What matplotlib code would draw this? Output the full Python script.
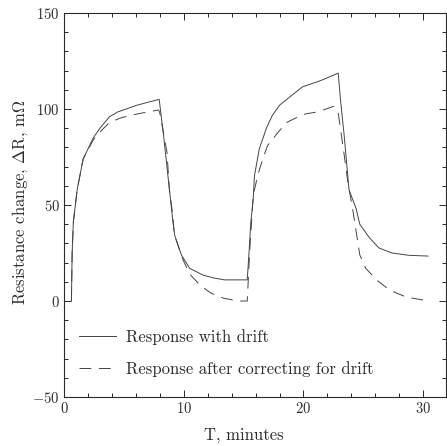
import matplotlib
matplotlib.use("Agg")
import matplotlib.pyplot as plt
from matplotlib.ticker import MultipleLocator

# ---- data ----
t_drift = [0.62, 0.68, 0.78, 1.1, 1.6, 2.45, 3.0, 3.8, 4.5, 5.2, 6.0, 7.0, 7.95,
           8.3, 8.7, 9.1, 9.25, 9.8, 10.5, 11.6, 12.5, 13.4, 14.5, 15.3,
           15.45, 15.6, 15.8, 15.9, 16.3, 16.9, 17.4, 18.0, 18.8, 19.9, 21.3, 21.9, 22.9,
           23.1, 23.4, 23.8, 24.4, 24.7, 25.5, 26.3, 27.4, 28.8, 30.4]
r_drift = [0, 25, 41, 58, 74, 85, 90, 96, 98.5, 100, 101.8, 103.5, 105,
           87, 64, 41, 34, 24, 17, 13.5, 12, 11, 11, 11,
           25, 41, 53, 65, 79, 90, 96.7, 102, 106, 111.5, 114.5, 116, 118.7,
           104, 86, 58, 48, 40, 33, 27.6, 25, 23.8, 23.4]

t_corr = [0.62, 0.68, 0.78, 1.1, 1.6, 2.45, 3.0, 3.8, 4.8, 5.8, 7.0, 7.9,
          8.0, 8.6, 8.8, 9.1, 9.2, 9.9, 10.5, 11.4, 12.3, 13.3, 14.5, 15.3,
          15.5, 15.8, 16.2, 16.6, 17.0, 17.4, 17.7, 18.3, 18.6, 19.25, 20.2, 21.1, 21.9, 22.5,
          22.9, 23.4, 23.7, 24.1, 24.7, 25.2, 26.1, 27.2, 28.6, 30.5]
r_corr = [0, 25, 41, 58, 74, 84, 88, 93, 95.5, 97, 98.5, 99.5,
          98, 77.5, 58, 44, 35, 22, 14, 8, 4, 1.5, 0, 0,
          25, 55, 66, 74, 81, 84, 86.5, 91, 93, 95, 97.5, 98.4, 100, 101.4,
          98, 76, 62, 48, 24, 17, 11, 5.6, 2, 0]

labels = ["Response with drift", "Response after correcting for drift"]
xlabel = "T, minutes"
ylabel = r"Resistance change, $\Delta$R, m$\Omega$"

# ---- style ----
plt.rcParams["font.family"] = ["cmr10", "DejaVu Serif"]
plt.rcParams["mathtext.fontset"] = "cm"
plt.rcParams["axes.unicode_minus"] = False
plt.rcParams["axes.formatter.use_mathtext"] = True
plt.rcParams["lines.scale_dashes"] = False

ink = "#2a2a2a"
linec = "#444444"

fig = plt.figure(figsize=(4.47, 4.46), dpi=100)
ax = fig.add_axes([64 / 447, 49 / 446, 382 / 447, 384 / 446])

ax.plot(t_drift, r_drift, color=linec, lw=0.7, label=labels[0])
ax.plot(t_corr, r_corr, color=linec, lw=0.7, dashes=(8.5, 5.5), label=labels[1])

ax.set_xlim(0, 31.9)
ax.set_ylim(-50, 150)
ax.xaxis.set_major_locator(MultipleLocator(10))
ax.xaxis.set_minor_locator(MultipleLocator(2))
ax.yaxis.set_major_locator(MultipleLocator(50))
ax.yaxis.set_minor_locator(MultipleLocator(10))
ax.tick_params(which="both", direction="in", top=True, right=True,
               colors=ink, labelsize=10.5, width=0.7)
ax.tick_params(which="major", length=5)
ax.tick_params(which="minor", length=3)
ax.tick_params(axis="x", pad=3)
ax.tick_params(axis="y", pad=3)
for s in ax.spines.values():
    s.set_color(ink)
    s.set_linewidth(0.8)

ax.set_xlabel(xlabel, fontsize=12, color=ink)
ax.xaxis.set_label_coords(0.47, -0.08)
ax.set_ylabel(ylabel, fontsize=12, color=ink)
ax.yaxis.set_label_coords(-0.089, 0.508)

leg = ax.legend(loc="upper left", bbox_to_anchor=(0.04, 0.177), frameon=False,
                fontsize=12, handlelength=2.2, handletextpad=0.6,
                labelspacing=1.0, borderpad=0, borderaxespad=0)
for txt in leg.get_texts():
    txt.set_color(ink)

fig.savefig("out.png", dpi=100)
